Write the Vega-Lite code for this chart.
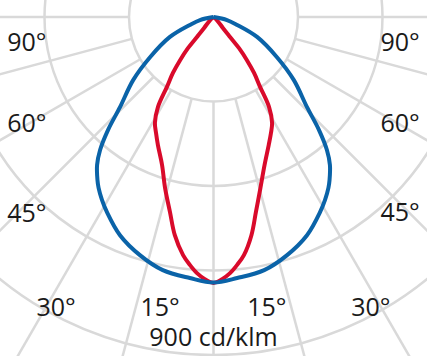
{
  "$schema": "https://vega.github.io/schema/vega-lite/v6.json",
  "width": 427,
  "height": 356,
  "autosize": {"type": "fit", "contains": "padding"},
  "padding": 0,
  "background": "white",
  "view": {"stroke": null},
  "datasets": {
    "rings": [
      {"r": 225, "a": -120, "x": -194.9, "y": 112.5}, {"r": 225, "a": -105, "x": -217.3, "y": 58.2}, {"r": 225, "a": -90, "x": -225, "y": 0},
      {"r": 225, "a": -75, "x": -217.3, "y": -58.2}, {"r": 225, "a": -60, "x": -194.9, "y": -112.5}, {"r": 225, "a": -45, "x": -159.1, "y": -159.1},
      {"r": 225, "a": -30, "x": -112.5, "y": -194.9}, {"r": 225, "a": -15, "x": -58.2, "y": -217.3}, {"r": 225, "a": 0, "x": 0, "y": -225},
      {"r": 225, "a": 15, "x": 58.2, "y": -217.3}, {"r": 225, "a": 30, "x": 112.5, "y": -194.9}, {"r": 225, "a": 45, "x": 159.1, "y": -159.1},
      {"r": 225, "a": 60, "x": 194.9, "y": -112.5}, {"r": 225, "a": 75, "x": 217.3, "y": -58.2}, {"r": 225, "a": 90, "x": 225, "y": 0},
      {"r": 225, "a": 105, "x": 217.3, "y": 58.2}, {"r": 225, "a": 120, "x": 194.9, "y": 112.5},
      {"r": 450, "a": -120, "x": -389.7, "y": 225}, {"r": 450, "a": -105, "x": -434.7, "y": 116.5}, {"r": 450, "a": -90, "x": -450, "y": 0},
      {"r": 450, "a": -75, "x": -434.7, "y": -116.5}, {"r": 450, "a": -60, "x": -389.7, "y": -225}, {"r": 450, "a": -45, "x": -318.2, "y": -318.2},
      {"r": 450, "a": -30, "x": -225, "y": -389.7}, {"r": 450, "a": -15, "x": -116.5, "y": -434.7}, {"r": 450, "a": 0, "x": 0, "y": -450},
      {"r": 450, "a": 15, "x": 116.5, "y": -434.7}, {"r": 450, "a": 30, "x": 225, "y": -389.7}, {"r": 450, "a": 45, "x": 318.2, "y": -318.2},
      {"r": 450, "a": 60, "x": 389.7, "y": -225}, {"r": 450, "a": 75, "x": 434.7, "y": -116.5}, {"r": 450, "a": 90, "x": 450, "y": 0},
      {"r": 450, "a": 105, "x": 434.7, "y": 116.5}, {"r": 450, "a": 120, "x": 389.7, "y": 225},
      {"r": 675, "a": -120, "x": -584.6, "y": 337.5}, {"r": 675, "a": -105, "x": -652.0, "y": 174.7}, {"r": 675, "a": -90, "x": -675, "y": 0},
      {"r": 675, "a": -75, "x": -652.0, "y": -174.7}, {"r": 675, "a": -60, "x": -584.6, "y": -337.5}, {"r": 675, "a": -45, "x": -477.3, "y": -477.3},
      {"r": 675, "a": -30, "x": -337.5, "y": -584.6}, {"r": 675, "a": -15, "x": -174.7, "y": -652.0}, {"r": 675, "a": 0, "x": 0, "y": -675},
      {"r": 675, "a": 15, "x": 174.7, "y": -652.0}, {"r": 675, "a": 30, "x": 337.5, "y": -584.6}, {"r": 675, "a": 45, "x": 477.3, "y": -477.3},
      {"r": 675, "a": 60, "x": 584.6, "y": -337.5}, {"r": 675, "a": 75, "x": 652.0, "y": -174.7}, {"r": 675, "a": 90, "x": 675, "y": 0},
      {"r": 675, "a": 105, "x": 652.0, "y": 174.7}, {"r": 675, "a": 120, "x": 584.6, "y": 337.5},
      {"r": 900, "a": -120, "x": -779.4, "y": 450}, {"r": 900, "a": -105, "x": -869.3, "y": 232.9}, {"r": 900, "a": -90, "x": -900, "y": 0},
      {"r": 900, "a": -75, "x": -869.3, "y": -232.9}, {"r": 900, "a": -60, "x": -779.4, "y": -450}, {"r": 900, "a": -45, "x": -636.4, "y": -636.4},
      {"r": 900, "a": -30, "x": -450, "y": -779.4}, {"r": 900, "a": -15, "x": -232.9, "y": -869.3}, {"r": 900, "a": 0, "x": 0, "y": -900},
      {"r": 900, "a": 15, "x": 232.9, "y": -869.3}, {"r": 900, "a": 30, "x": 450, "y": -779.4}, {"r": 900, "a": 45, "x": 636.4, "y": -636.4},
      {"r": 900, "a": 60, "x": 779.4, "y": -450}, {"r": 900, "a": 75, "x": 869.3, "y": -232.9}, {"r": 900, "a": 90, "x": 900, "y": 0},
      {"r": 900, "a": 105, "x": 869.3, "y": 232.9}, {"r": 900, "a": 120, "x": 779.4, "y": 450}
    ],
    "spokes": [
      {"angle": -90, "x": -225, "y": 0, "x2": -1200, "y2": 0},
      {"angle": -75, "x": -217.3, "y": -58.2, "x2": -1159.1, "y2": -310.6},
      {"angle": -60, "x": -194.9, "y": -112.5, "x2": -1039.2, "y2": -600},
      {"angle": -45, "x": -159.1, "y": -159.1, "x2": -848.5, "y2": -848.5},
      {"angle": -30, "x": -112.5, "y": -194.9, "x2": -600, "y2": -1039.2},
      {"angle": -15, "x": -58.2, "y": -217.3, "x2": -310.6, "y2": -1159.1},
      {"angle": 0, "x": 0, "y": -225, "x2": 0, "y2": -1200},
      {"angle": 15, "x": 58.2, "y": -217.3, "x2": 310.6, "y2": -1159.1},
      {"angle": 30, "x": 112.5, "y": -194.9, "x2": 600, "y2": -1039.2},
      {"angle": 45, "x": 159.1, "y": -159.1, "x2": 848.5, "y2": -848.5},
      {"angle": 60, "x": 194.9, "y": -112.5, "x2": 1039.2, "y2": -600},
      {"angle": 75, "x": 217.3, "y": -58.2, "x2": 1159.1, "y2": -310.6},
      {"angle": 90, "x": 225, "y": 0, "x2": 1200, "y2": 0}
    ],
    "red_curve": [
      {"i": 0, "x": 0, "y": 0},
      {"i": 1, "x": -9, "y": -8},
      {"i": 2, "x": -25, "y": -29},
      {"i": 3, "x": -44, "y": -53},
      {"i": 4, "x": -68, "y": -83},
      {"i": 5, "x": -89, "y": -115},
      {"i": 6, "x": -108, "y": -149},
      {"i": 7, "x": -124, "y": -186},
      {"i": 8, "x": -148, "y": -240},
      {"i": 9, "x": -156, "y": -282},
      {"i": 10, "x": -153, "y": -309},
      {"i": 11, "x": -148, "y": -341},
      {"i": 12, "x": -137, "y": -394},
      {"i": 13, "x": -129, "y": -455},
      {"i": 14, "x": -116, "y": -519},
      {"i": 15, "x": -103, "y": -581},
      {"i": 16, "x": -81, "y": -634},
      {"i": 17, "x": -63, "y": -660},
      {"i": 18, "x": -44, "y": -682},
      {"i": 19, "x": -23, "y": -698},
      {"i": 20, "x": 0, "y": -708},
      {"i": 21, "x": 23, "y": -698},
      {"i": 22, "x": 44, "y": -682},
      {"i": 23, "x": 63, "y": -660},
      {"i": 24, "x": 81, "y": -634},
      {"i": 25, "x": 101, "y": -581},
      {"i": 26, "x": 113, "y": -519},
      {"i": 27, "x": 125, "y": -455},
      {"i": 28, "x": 136, "y": -394},
      {"i": 29, "x": 147, "y": -341},
      {"i": 30, "x": 153, "y": -309},
      {"i": 31, "x": 156, "y": -282},
      {"i": 32, "x": 148, "y": -240},
      {"i": 33, "x": 124, "y": -186},
      {"i": 34, "x": 108, "y": -149},
      {"i": 35, "x": 89, "y": -115},
      {"i": 36, "x": 68, "y": -83},
      {"i": 37, "x": 44, "y": -53},
      {"i": 38, "x": 25, "y": -29},
      {"i": 39, "x": 9, "y": -8},
      {"i": 40, "x": 0, "y": 0}
    ],
    "blue_curve": [
      {"i": 0, "x": 0, "y": 0},
      {"i": 1, "x": -36, "y": -8},
      {"i": 2, "x": -63, "y": -21},
      {"i": 3, "x": -116, "y": -53},
      {"i": 4, "x": -169, "y": -107},
      {"i": 5, "x": -214, "y": -168},
      {"i": 6, "x": -249, "y": -240},
      {"i": 7, "x": -281, "y": -301},
      {"i": 8, "x": -302, "y": -354},
      {"i": 9, "x": -310, "y": -394},
      {"i": 10, "x": -309, "y": -434},
      {"i": 11, "x": -306, "y": -455},
      {"i": 12, "x": -297, "y": -487},
      {"i": 13, "x": -284, "y": -519},
      {"i": 14, "x": -249, "y": -581},
      {"i": 15, "x": -196, "y": -634},
      {"i": 16, "x": -135, "y": -674},
      {"i": 17, "x": -63, "y": -695},
      {"i": 18, "x": 0, "y": -707},
      {"i": 19, "x": 63, "y": -695},
      {"i": 20, "x": 135, "y": -674},
      {"i": 21, "x": 196, "y": -634},
      {"i": 22, "x": 249, "y": -581},
      {"i": 23, "x": 284, "y": -519},
      {"i": 24, "x": 297, "y": -487},
      {"i": 25, "x": 306, "y": -455},
      {"i": 26, "x": 309, "y": -434},
      {"i": 27, "x": 310, "y": -394},
      {"i": 28, "x": 302, "y": -354},
      {"i": 29, "x": 281, "y": -301},
      {"i": 30, "x": 249, "y": -240},
      {"i": 31, "x": 214, "y": -168},
      {"i": 32, "x": 169, "y": -107},
      {"i": 33, "x": 116, "y": -53},
      {"i": 34, "x": 63, "y": -21},
      {"i": 35, "x": 36, "y": -8},
      {"i": 36, "x": 0, "y": 0}
    ],
    "labels": [
      {"text": "90°", "x": -497, "y": -69},
      {"text": "90°", "x": 497, "y": -69},
      {"text": "60°", "x": -497, "y": -284},
      {"text": "60°", "x": 497, "y": -284},
      {"text": "45°", "x": -497, "y": -525},
      {"text": "45°", "x": 497, "y": -522},
      {"text": "30°", "x": -419, "y": -776},
      {"text": "30°", "x": 419, "y": -776},
      {"text": "15°", "x": -142, "y": -776},
      {"text": "15°", "x": 142, "y": -776},
      {"text": "900 cd/klm", "x": 0, "y": -855}
    ]
  },
  "encoding": {
    "x": {"field": "x", "type": "quantitative", "scale": {"domain": [-568.5, 568.5], "nice": false, "zero": false}, "axis": null},
    "y": {"field": "y", "type": "quantitative", "scale": {"domain": [-902.7, 45.3], "nice": false, "zero": false}, "axis": null}
  },
  "layer": [
    {
      "data": {"name": "rings"},
      "mark": {"type": "line", "color": "#d9d9d9", "strokeWidth": 2.5, "interpolate": "catmull-rom", "clip": true},
      "encoding": {
        "detail": {"field": "r", "type": "nominal"},
        "order": {"field": "a", "type": "quantitative"}
      }
    },
    {
      "data": {"name": "spokes"},
      "mark": {"type": "rule", "color": "#d9d9d9", "strokeWidth": 2.5, "clip": true},
      "encoding": {
        "x2": {"field": "x2"},
        "y2": {"field": "y2"}
      }
    },
    {
      "data": {"name": "red_curve"},
      "mark": {"type": "line", "color": "#d90a2b", "strokeWidth": 4, "interpolate": "catmull-rom", "clip": true},
      "encoding": {"order": {"field": "i", "type": "quantitative"}}
    },
    {
      "data": {"name": "blue_curve"},
      "mark": {"type": "line", "color": "#0a63a8", "strokeWidth": 4, "interpolate": "catmull-rom", "clip": true},
      "encoding": {"order": {"field": "i", "type": "quantitative"}}
    },
    {
      "data": {"name": "labels"},
      "mark": {"type": "text", "font": "Open Sans", "fontSize": 25, "color": "#1a1a1a", "align": "center", "baseline": "middle"},
      "encoding": {"text": {"field": "text", "type": "nominal"}}
    }
  ]
}
